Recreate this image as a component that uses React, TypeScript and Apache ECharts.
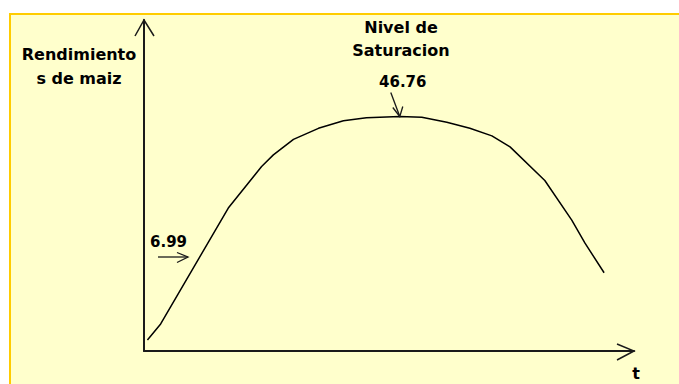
import React, { useEffect, useRef } from "react";
import * as echarts from "echarts";

// t (time, arbitrary units) and maize yield along the saturation curve
const tValues = [0.7, 3.4, 17.2, 24.0, 26.4, 30.5, 35.6, 40.7, 45.4, 52.2, 56.7, 61.8, 66.5, 71.0, 74.7, 81.8, 87.3, 90.0, 93.9];
const yieldValues = [2.2, 5.4, 28.5, 36.8, 39.1, 42.2, 44.4, 45.9, 46.5, 46.76, 46.6, 45.6, 44.4, 42.9, 40.7, 34.0, 26.1, 21.5, 15.6];

const yTitleLines = ["Rendimiento", "s de maiz"];
const peakTitleLines = ["Nivel de", "Saturacion"];
const peakLabel = "46.76";
const startLabel = "6.99";
const xTitle = "t";

const X_MAX = 100;
const Y_MAX = 66;

const FONT_WORDS = 'bold 16px "DejaVu Sans", "Liberation Sans", Arial, sans-serif';
const FONT_NUM = 'bold 15px "DejaVu Sans", "Liberation Sans", Arial, sans-serif';
const INK = "#1a1a1a";

export default function App() {
  const ref = useRef<HTMLDivElement>(null);

  useEffect(() => {
    if (!ref.current) return;
    const chart = echarts.init(ref.current, null, { renderer: "svg" });

    const data = tValues.map((t, i) => [t, yieldValues[i]]);

    chart.setOption({
      animation: false,
      backgroundColor: "#ffffff",
      grid: { left: 144, right: 45, top: 20, bottom: 33, containLabel: false },
      xAxis: {
        type: "value",
        min: 0,
        max: X_MAX,
        axisLine: { show: true, onZero: false, lineStyle: { color: INK, width: 2 } },
        axisTick: { show: false },
        axisLabel: { show: false },
        splitLine: { show: false },
      },
      yAxis: {
        type: "value",
        min: 0,
        max: Y_MAX,
        axisLine: { show: true, onZero: false, lineStyle: { color: INK, width: 2 } },
        axisTick: { show: false },
        axisLabel: { show: false },
        splitLine: { show: false },
      },
      series: [
        {
          type: "line",
          data,
          showSymbol: false,
          symbol: "none",
          smooth: false,
          lineStyle: { color: "#000", width: 1.5 },
          z: 5,
        },
      ],
    });

    const px = (v: number[]) => chart.convertToPixel({ gridIndex: 0 }, v) as number[];
    const origin = px([0, 0]);
    const yTop = px([0, Y_MAX]);
    const xEnd = px([X_MAX, 0]);
    const peakIdx = yieldValues.indexOf(Math.max(...yieldValues));
    const peak = px([tValues[peakIdx], yieldValues[peakIdx]]);

    const arrowStyle = { stroke: INK, lineWidth: 1.3, fill: null };
    const textStyle = (text: string, x: number, y: number, font: string, align = "center") => ({
      type: "text",
      z: 20,
      style: {
        text,
        x,
        y,
        font,
        fill: "#000",
        textAlign: align,
        textVerticalAlign: "middle",
        verticalAlign: "middle",
      },
    });

    chart.setOption({
      graphic: [
        {
          type: "rect",
          z: -10,
          silent: true,
          shape: { x: 10, y: 14, width: 700, height: 400 },
          style: { fill: "#FFFFCC", stroke: "#FFCC00", lineWidth: 2 },
        },
        // axis arrowheads
        {
          type: "polyline",
          z: 10,
          shape: { points: [[yTop[0] - 9, yTop[1] + 16], [yTop[0], yTop[1]], [yTop[0] + 10, yTop[1] + 16]] },
          style: { stroke: INK, lineWidth: 1.5, fill: null },
        },
        {
          type: "polyline",
          z: 10,
          shape: { points: [[xEnd[0] - 17, xEnd[1] - 7], [xEnd[0], xEnd[1]], [xEnd[0] - 17, xEnd[1] + 9]] },
          style: { stroke: INK, lineWidth: 1.5, fill: null },
        },
        // peak annotation arrow
        {
          type: "line",
          z: 10,
          shape: { x1: peak[0] - 9, y1: peak[1] - 24, x2: peak[0], y2: peak[1] },
          style: arrowStyle,
        },
        {
          type: "polyline",
          z: 10,
          shape: { points: [[peak[0] - 7, peak[1] - 9], [peak[0], peak[1]], [peak[0] + 3, peak[1] - 10]] },
          style: arrowStyle,
        },
        // 6.99 annotation arrow
        {
          type: "line",
          z: 10,
          shape: { x1: origin[0] + 14, y1: 257, x2: origin[0] + 44, y2: 257 },
          style: arrowStyle,
        },
        {
          type: "polyline",
          z: 10,
          shape: { points: [[origin[0] + 33, 252.5], [origin[0] + 44, 257], [origin[0] + 33, 262.5]] },
          style: arrowStyle,
        },
        textStyle(yTitleLines[0], 79, 54, FONT_WORDS),
        textStyle(yTitleLines[1], 79, 78, FONT_WORDS),
        textStyle(peakTitleLines[0], 401, 27, FONT_WORDS),
        textStyle(peakTitleLines[1], 401, 50, FONT_WORDS),
        textStyle(peakLabel, peak[0] + 3, 82, FONT_NUM),
        textStyle(startLabel, origin[0] + 6, 242, FONT_NUM, "left"),
        textStyle(xTitle, xEnd[0] + 2, 373, FONT_WORDS),
      ],
    });

    return () => chart.dispose();
  }, []);

  return (
    <div
      ref={ref}
      style={{ position: "fixed", left: 0, top: 0, width: 679, height: 384 }}
    />
  );
}
